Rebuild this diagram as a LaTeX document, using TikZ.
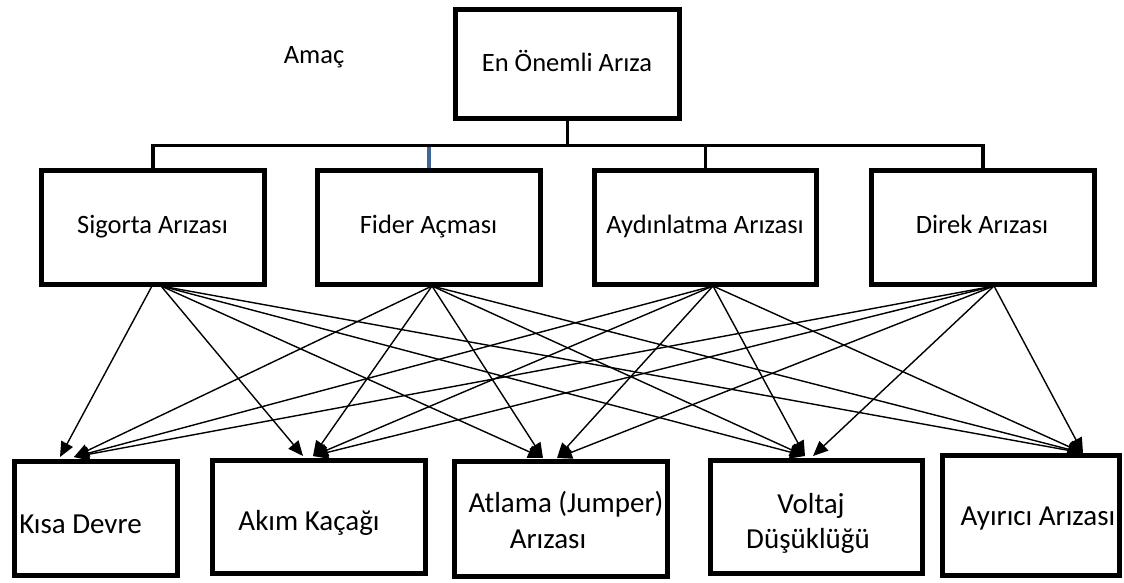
\documentclass[tikz,border=0pt]{standalone}
\usepackage{fontspec}
\setmainfont{Carlito}
\usetikzlibrary{arrows.meta}
\definecolor{linkblue}{HTML}{41679A}
\begin{document}
\begin{tikzpicture}[x=1pt,y=-1pt,
  box/.style={draw,line width=4.6pt,inner sep=0pt,minimum width=#1},
  midtxt/.style={anchor=base,inner sep=0pt,font=\fontsize{26.5}{30}\selectfont},
  bottxt/.style={anchor=base,inner sep=0pt,font=\fontsize{29}{33}\selectfont},
  conn/.style={line width=3.8pt},
  arr/.style={line width=1.4pt,-{Triangle[length=15pt,width=13pt]}}]
\useasboundingbox (0,0) rectangle (1124,583);
% top
\node[box=224pt,minimum height=109pt] (top) at (567.5,64) {};
\node[midtxt] (toptxt) at (567,72) {En Önemli Arıza};
\node[midtxt] (amac) at (314,64) {Amaç};
% middle boxes
\node[box=223pt,minimum height=114pt] (sig) at (153,227.5) {};
\node[box=223pt,minimum height=114pt] (fid) at (429,227.5) {};
\node[box=222pt,minimum height=114pt] (ayd) at (705.5,227.5) {};
\node[box=223pt,minimum height=114pt] (dir) at (983,227.5) {};
\node[midtxt] (sigtxt) at (152.5,233) {Sigorta Arızası};
\node[midtxt] (fidtxt) at (428.5,233) {Fider Açması};
\node[midtxt] (aydtxt) at (705,233) {Aydınlatma Arızası};
\node[midtxt] (dirtxt) at (982,233) {Direk Arızası};
% bottom boxes
\node[box=163pt,minimum height=114pt] (kis) at (96,518.5) {};
\node[box=213pt,minimum height=113pt] (aki) at (319,517) {};
\node[box=213pt,minimum height=115pt] (atl) at (561,519) {};
\node[box=212pt,minimum height=113pt] (vol) at (816.5,517) {};
\node[box=177pt,minimum height=120pt] (ayr) at (1031,515.5) {};
\node[bottxt] (kistxt) at (80.5,533) {Kısa Devre};
\node[bottxt] (akitxt) at (309,530) {Akım Kaçağı};
\node[bottxt] (atltxta) at (566,512) {Atlama (Jumper)};
\node[bottxt] (atltxtb) at (548,548) {Arızası};
\node[bottxt] (voltxta) at (811,513) {Voltaj};
\node[bottxt] (voltxtb) at (808,548) {Düşüklüğü};
\node[bottxt] (ayrtxt) at (1038,525) {Ayırıcı Arızası};
% tree connectors
\coordinate (jt) at (567.5,145.5);
\coordinate (jl) at (153,145.5);
\coordinate (jr) at (983,145.5);
\draw[conn] (top.south) -- (jt);
\draw[conn] (sig.north) -- (jl) -- (jr) -- (dir.north);
\draw[conn] (ayd.north) -- (705.5,145.5);
\draw[line width=3.2pt,linkblue] (fid.north) -- (429,147.5);
% arrow sources
\coordinate (sA) at (152,286);
\coordinate (sB) at (161,286);
\coordinate (fS) at (432,286);
\coordinate (aS) at (713,286);
\coordinate (dS) at (994,286);
% arrow targets
\coordinate (kA) at (60,457);
\coordinate (kB) at (74,457);
\coordinate (akA) at (303,456);
\coordinate (akB) at (313,456);
\coordinate (atA) at (543,458);
\coordinate (atB) at (557,458);
\coordinate (vA) at (805,456);
\coordinate (vB) at (813,456);
\coordinate (ay) at (1083,453);
\draw[arr] (sA) -- (kA);
\draw[arr] (sB) -- (akA);
\draw[arr] (sB) -- (atA);
\draw[arr] (sB) -- (vA);
\draw[arr] (sB) -- (ay);
\draw[arr] (fS) -- (kB);
\draw[arr] (fS) -- (akB);
\draw[arr] (fS) -- (atA);
\draw[arr] (fS) -- (vA);
\draw[arr] (fS) -- (ay);
\draw[arr] (aS) -- (kB);
\draw[arr] (aS) -- (akB);
\draw[arr] (aS) -- (atB);
\draw[arr] (aS) -- (vA);
\draw[arr] (aS) -- (ay);
\draw[arr] (dS) -- (kB);
\draw[arr] (dS) -- (akB);
\draw[arr] (dS) -- (atB);
\draw[arr] (dS) -- (vB);
\draw[arr] (dS) -- (ay);
\end{tikzpicture}
\end{document}
